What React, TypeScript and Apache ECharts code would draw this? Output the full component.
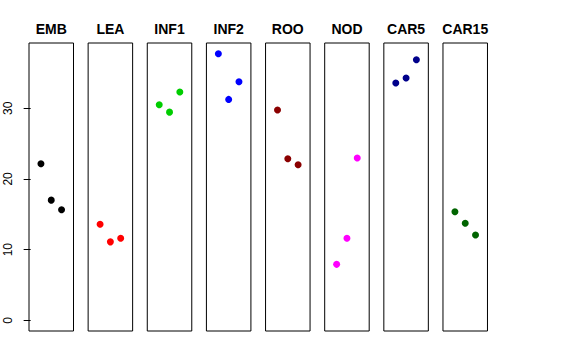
import React, { useEffect, useRef } from "react";
import * as echarts from "echarts";

const panels = ["EMB", "LEA", "INF1", "INF2", "ROO", "NOD", "CAR5", "CAR15"];
const colors = ["#000000", "#FF0000", "#00CD00", "#0000FF", "#8B0000", "#FF00FF", "#00008B", "#006400"];
const positions = [1, 2, 3];
const values = [
  [22.15, 17.0, 15.65],
  [13.6, 11.1, 11.6],
  [30.5, 29.45, 32.3],
  [37.7, 31.25, 33.75],
  [29.75, 22.86, 22.0],
  [7.92, 11.6, 22.96],
  [33.56, 34.27, 36.86],
  [15.36, 13.72, 12.07],
];
const yTicks = [0, 10, 20, 30];

export default function App() {
  const ref = useRef<HTMLDivElement>(null);
  useEffect(() => {
    if (!ref.current) return;
    const chart = echarts.init(ref.current, null, { renderer: "svg" });
    const yMaxData = 37.72;
    const yMin = -0.04 * yMaxData;
    const yMax = yMaxData * 1.04;
    const pitch = 59.14;
    const grids: any[] = [];
    const xAxes: any[] = [];
    const yAxes: any[] = [];
    const series: any[] = [];
    const titles: any[] = [];
    panels.forEach((name, i) => {
      const left = 29 + i * pitch;
      grids.push({
        left,
        top: 43,
        width: 44.5,
        height: 288,
        show: true,
        borderColor: "#000",
        borderWidth: 1,
        backgroundColor: "transparent",
        containLabel: false,
      });
      xAxes.push({
        type: "value",
        gridIndex: i,
        min: -0.16,
        max: 4.16,
        show: false,
      });
      yAxes.push({
        type: "value",
        gridIndex: i,
        min: yMin,
        max: yMax,
        show: i === 0,
        axisLine: { show: false },
        splitLine: { show: false },
        axisTick: {
          show: i === 0,
          customValues: yTicks,
          length: 7,
          lineStyle: { color: "#000" },
        },
        axisLabel: {
          show: i === 0,
          customValues: yTicks,
          rotate: 90,
          margin: 15,
          color: "#000",
          fontSize: 12,
          fontFamily: "Liberation Sans, Arial, sans-serif",
        },
      });
      series.push({
        type: "scatter",
        name,
        xAxisIndex: i,
        yAxisIndex: i,
        symbol: "circle",
        symbolSize: 7,
        itemStyle: { color: colors[i], opacity: 1 },
        data: positions.map((p, k) => [p, values[i][k]]),
      });
      titles.push({
        text: name,
        left: left + 22.25,
        top: 22,
        padding: 0,
        textAlign: "center",
        textStyle: {
          fontSize: 14,
          fontWeight: "bold",
          color: "#000",
          fontFamily: "Liberation Sans, Arial, sans-serif",
        },
      });
    });
    chart.setOption({
      animation: false,
      backgroundColor: "#fff",
      title: titles,
      grid: grids,
      xAxis: xAxes,
      yAxis: yAxes,
      series,
    });
    return () => chart.dispose();
  }, []);
  return (
    <div
      ref={ref}
      style={{ position: "fixed", left: 0, top: 0, width: 576, height: 360 }}
    />
  );
}
